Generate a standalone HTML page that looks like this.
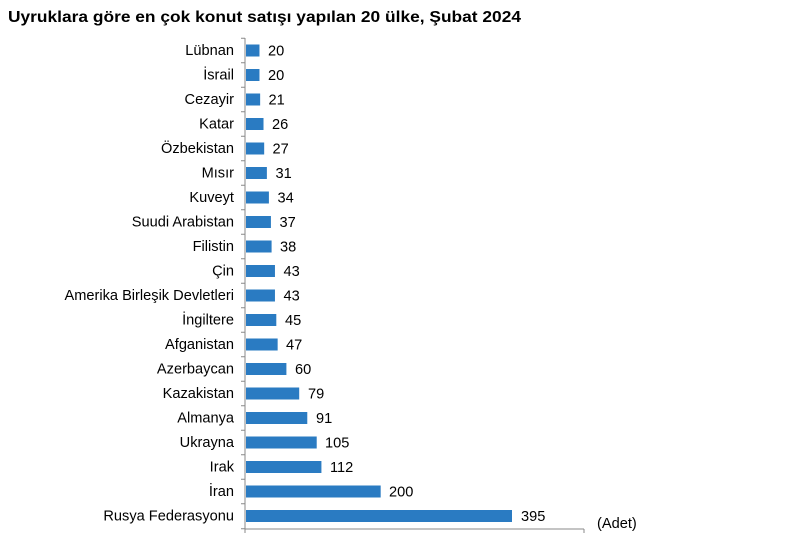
<!DOCTYPE html><html><head><meta charset="utf-8"><style>body{margin:0;background:#fff}</style></head><body>
<svg width="786" height="552" xmlns="http://www.w3.org/2000/svg" font-family="Liberation Sans, Arial, sans-serif" font-size="14.6">
<rect width="786" height="552" fill="#fff"/>
<text x="8" y="22" font-size="15.5" font-weight="bold" fill="#000" textLength="513" lengthAdjust="spacingAndGlyphs">Uyruklara göre en çok konut satışı yapılan 20 ülke, Şubat 2024</text>
<g fill="#2a7bc2">
<rect x="246" y="44.5" width="13.47" height="12"/>
<rect x="246" y="69" width="13.47" height="12"/>
<rect x="246" y="93.5" width="14.14" height="12"/>
<rect x="246" y="118" width="17.51" height="12"/>
<rect x="246" y="142.5" width="18.18" height="12"/>
<rect x="246" y="167" width="20.88" height="12"/>
<rect x="246" y="191.5" width="22.9" height="12"/>
<rect x="246" y="216" width="24.92" height="12"/>
<rect x="246" y="240.5" width="25.59" height="12"/>
<rect x="246" y="265" width="28.96" height="12"/>
<rect x="246" y="289.5" width="28.96" height="12"/>
<rect x="246" y="314" width="30.3" height="12"/>
<rect x="246" y="338.5" width="31.65" height="12"/>
<rect x="246" y="363" width="40.4" height="12"/>
<rect x="246" y="387.5" width="53.2" height="12"/>
<rect x="246" y="412" width="61.28" height="12"/>
<rect x="246" y="436.5" width="70.71" height="12"/>
<rect x="246" y="461" width="75.42" height="12"/>
<rect x="246" y="485.5" width="134.68" height="12"/>
<rect x="246" y="510" width="266" height="12"/>
</g>
<g text-anchor="end" fill="#000">
<text x="234" y="55">Lübnan</text>
<text x="234" y="79.5">İsrail</text>
<text x="234" y="104">Cezayir</text>
<text x="234" y="128.5">Katar</text>
<text x="234" y="153">Özbekistan</text>
<text x="234" y="177.5">Mısır</text>
<text x="234" y="202">Kuveyt</text>
<text x="234" y="226.5">Suudi Arabistan</text>
<text x="234" y="251">Filistin</text>
<text x="234" y="275.5">Çin</text>
<text x="234" y="300">Amerika Birleşik Devletleri</text>
<text x="234" y="324.5">İngiltere</text>
<text x="234" y="349">Afganistan</text>
<text x="234" y="373.5">Azerbaycan</text>
<text x="234" y="398">Kazakistan</text>
<text x="234" y="422.5">Almanya</text>
<text x="234" y="447">Ukrayna</text>
<text x="234" y="471.5">Irak</text>
<text x="234" y="496">İran</text>
<text x="234" y="520.5">Rusya Federasyonu</text>
</g>
<g fill="#000">
<text x="268" y="55.5">20</text>
<text x="268" y="80">20</text>
<text x="268.5" y="104.5">21</text>
<text x="272" y="129">26</text>
<text x="272.5" y="153.5">27</text>
<text x="275.5" y="178">31</text>
<text x="277.5" y="202.5">34</text>
<text x="279.5" y="227">37</text>
<text x="280" y="251.5">38</text>
<text x="283.5" y="276">43</text>
<text x="283.5" y="300.5">43</text>
<text x="285" y="325">45</text>
<text x="286" y="349.5">47</text>
<text x="295" y="374">60</text>
<text x="308" y="398.5">79</text>
<text x="316" y="423">91</text>
<text x="325" y="447.5">105</text>
<text x="330" y="472">112</text>
<text x="389" y="496.5">200</text>
<text x="521" y="521">395</text>
</g>
<g stroke="#888" stroke-width="1">
<line x1="245" y1="38" x2="245" y2="529"/>
<line x1="245" y1="529" x2="584" y2="529"/>
<line x1="584" y1="529" x2="584" y2="533"/>
<line x1="245" y1="529" x2="245" y2="533"/>
<line x1="241" y1="38.25" x2="245" y2="38.25"/>
<line x1="241" y1="62.75" x2="245" y2="62.75"/>
<line x1="241" y1="87.25" x2="245" y2="87.25"/>
<line x1="241" y1="111.75" x2="245" y2="111.75"/>
<line x1="241" y1="136.25" x2="245" y2="136.25"/>
<line x1="241" y1="160.75" x2="245" y2="160.75"/>
<line x1="241" y1="185.25" x2="245" y2="185.25"/>
<line x1="241" y1="209.75" x2="245" y2="209.75"/>
<line x1="241" y1="234.25" x2="245" y2="234.25"/>
<line x1="241" y1="258.75" x2="245" y2="258.75"/>
<line x1="241" y1="283.25" x2="245" y2="283.25"/>
<line x1="241" y1="307.75" x2="245" y2="307.75"/>
<line x1="241" y1="332.25" x2="245" y2="332.25"/>
<line x1="241" y1="356.75" x2="245" y2="356.75"/>
<line x1="241" y1="381.25" x2="245" y2="381.25"/>
<line x1="241" y1="405.75" x2="245" y2="405.75"/>
<line x1="241" y1="430.25" x2="245" y2="430.25"/>
<line x1="241" y1="454.75" x2="245" y2="454.75"/>
<line x1="241" y1="479.25" x2="245" y2="479.25"/>
<line x1="241" y1="503.75" x2="245" y2="503.75"/>
<line x1="241" y1="528.75" x2="245" y2="528.75"/>
</g>
<text x="597" y="528" fill="#000">(Adet)</text>
</svg></body></html>
